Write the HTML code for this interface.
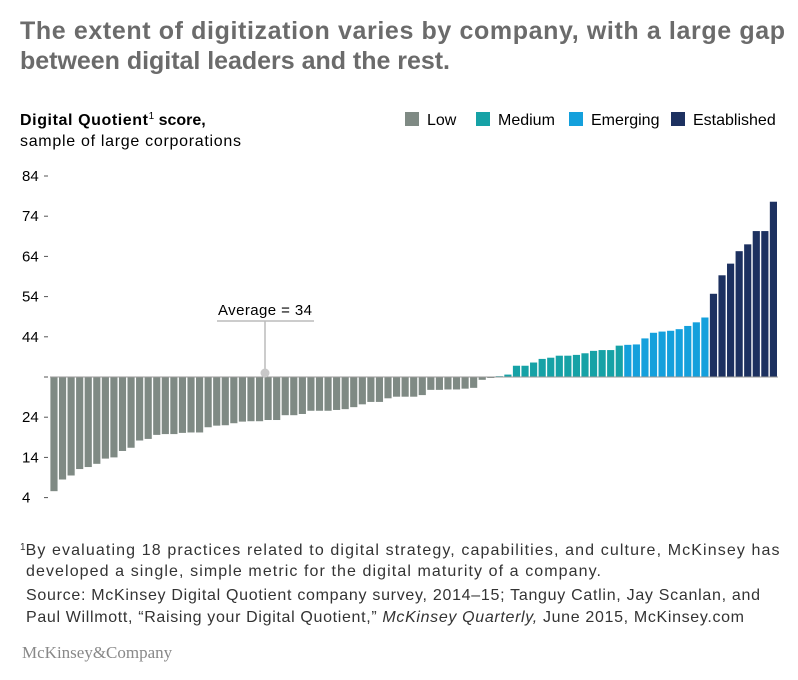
<!DOCTYPE html>
<html><head><meta charset="utf-8">
<style>
body{margin:0;background:#fff;width:798px;height:675px;overflow:hidden;font-family:"Liberation Sans",Arial,sans-serif;}
svg text{font-family:"Liberation Sans",Arial,sans-serif;}
</style></head>
<body>
<svg width="798" height="675">
<text x="20" y="39" font-size="25" fill="#6b6b6b" font-weight="bold" textLength="765" lengthAdjust="spacing">The extent of digitization varies by company, with a large gap</text>
<text x="20" y="69" font-size="25" fill="#6b6b6b" font-weight="bold" textLength="430" lengthAdjust="spacing">between digital leaders and the rest.</text>
<text x="20" y="125" font-size="16" fill="#000"><tspan font-weight="bold" textLength="128" lengthAdjust="spacing">Digital Quotient</tspan><tspan font-size="10" dy="-6">1</tspan><tspan dy="6" font-weight="bold"> score,</tspan></text>
<text x="20" y="146" font-size="16" fill="#000" textLength="221" lengthAdjust="spacing">sample of large corporations</text>
<g id="legend"></g>
<g id="axis"></g>
<g id="bars"></g>
<g>
<text x="218" y="315" font-size="15" fill="#000" textLength="94" lengthAdjust="spacing">Average = 34</text>
<line x1="217" y1="321" x2="314" y2="321" stroke="#bbb" stroke-width="1.5"/>
<line x1="265" y1="321" x2="265" y2="372" stroke="#bbb" stroke-width="1.5"/>
<circle cx="265" cy="373" r="4.5" fill="#c8c8c8"/>
</g>
<text x="20" y="555" font-size="16" fill="#333"><tspan font-size="10" dy="-5">1</tspan><tspan dy="5" textLength="754" lengthAdjust="spacing">By evaluating 18 practices related to digital strategy, capabilities, and culture, McKinsey has</tspan></text>
<text x="26" y="576" font-size="16" fill="#333" textLength="575" lengthAdjust="spacing">developed a single, simple metric for the digital maturity of a company.</text>
<text x="26" y="600" font-size="16" fill="#333" textLength="734" lengthAdjust="spacing">Source: McKinsey Digital Quotient company survey, 2014–15; Tanguy Catlin, Jay Scanlan, and</text>
<text x="26" y="622" font-size="16" fill="#333" textLength="718" lengthAdjust="spacing">Paul Willmott, “Raising your Digital Quotient,” <tspan font-style="italic">McKinsey Quarterly,</tspan> June 2015, McKinsey.com</text>
<text x="22" y="658" font-size="17" fill="#888" style="font-family:'Liberation Serif',serif">McKinsey&amp;Company</text>
</svg>
<script>
const scores=[5.6,8.5,9.5,11.1,11.6,12.4,13.7,14.0,15.6,16.4,18.2,18.6,19.6,19.8,19.8,20.1,20.2,20.2,21.5,21.9,22.0,22.5,22.9,23.0,23.0,23.3,23.3,24.5,
24.5,24.8,25.6,25.6,25.6,25.8,26,26.5,27.2,27.8,27.8,28.7,29.1,29.1,29.1,29.5,30.8,30.8,30.9,30.9,31.1,31.3,33.3,33.9,34.2,34.6,36.8,36.8,37.6,
38.5,38.8,39.3,39.3,39.5,39.9,40.5,40.7,40.7,41.8,
42,42.1,43.6,45,45.3,45.5,45.9,46.7,47.6,48.8,
54.7,59.3,62.2,65.3,67,70.3,70.3,77.6];
const categories=["Low","Medium","Emerging","Established"];
const groupCounts=[52,15,10,8];
const tickValues=[4,14,24,34,44,54,64,74,84];
const tickLabels=["4","14","24","","44","54","64","74","84"];
const average=34;
const colors=["#7f8a84","#16a2a6","#14a0dc","#1d3160"];
const ns="http://www.w3.org/2000/svg";
const x0=50,x1=778,yBase=377,pxPerUnit=4.02;
function y(v){return yBase-(v-average)*pxPerUnit;}
function xb(i){return x0+i*(x1-x0)/scores.length;}
const bw=(x1-x0)/scores.length;
function mk(t,a){const e=document.createElementNS(ns,t);for(const k in a)e.setAttribute(k,a[k]);return e;}
const bars=document.getElementById('bars');
let cat=[];groupCounts.forEach((c,g)=>{for(let i=0;i<c;i++)cat.push(g);});
scores.forEach((v,i)=>{
  const top=Math.min(y(v),yBase),h=Math.max(Math.abs(y(v)-yBase),1);
  const r=mk('rect',{x:xb(i)+0.4,y:top,width:bw-1.4,height:h,fill:colors[cat[i]]});
  
  
  bars.appendChild(r);
});
const bl=mk('line',{x1:x0,y1:yBase,x2:x1,y2:yBase,stroke:'#999','stroke-width':1});


bars.appendChild(bl);
const axis=document.getElementById('axis');
tickValues.forEach((v,i)=>{
  const t=mk('text',{x:22,y:y(v)+5,'font-size':15,fill:'#000'});
  t.textContent=tickLabels[i];
  
  
  axis.appendChild(t);
  const d=mk('line',{x1:44,y1:y(v),x2:48,y2:y(v),stroke:'#555','stroke-width':1});
  
  
  axis.appendChild(d);
});
const legend=document.getElementById('legend');
const lx=[405,476,569,671];
categories.forEach((c,i)=>{
  const g=mk('g',{});
  
  
  g.appendChild(mk('rect',{x:lx[i],y:112,width:14,height:14,fill:colors[i]}));
  const t=mk('text',{x:lx[i]+22,y:125,'font-size':16,fill:'#000'});t.textContent=c;
  g.appendChild(t);legend.appendChild(g);
});
</script>
</body></html>
